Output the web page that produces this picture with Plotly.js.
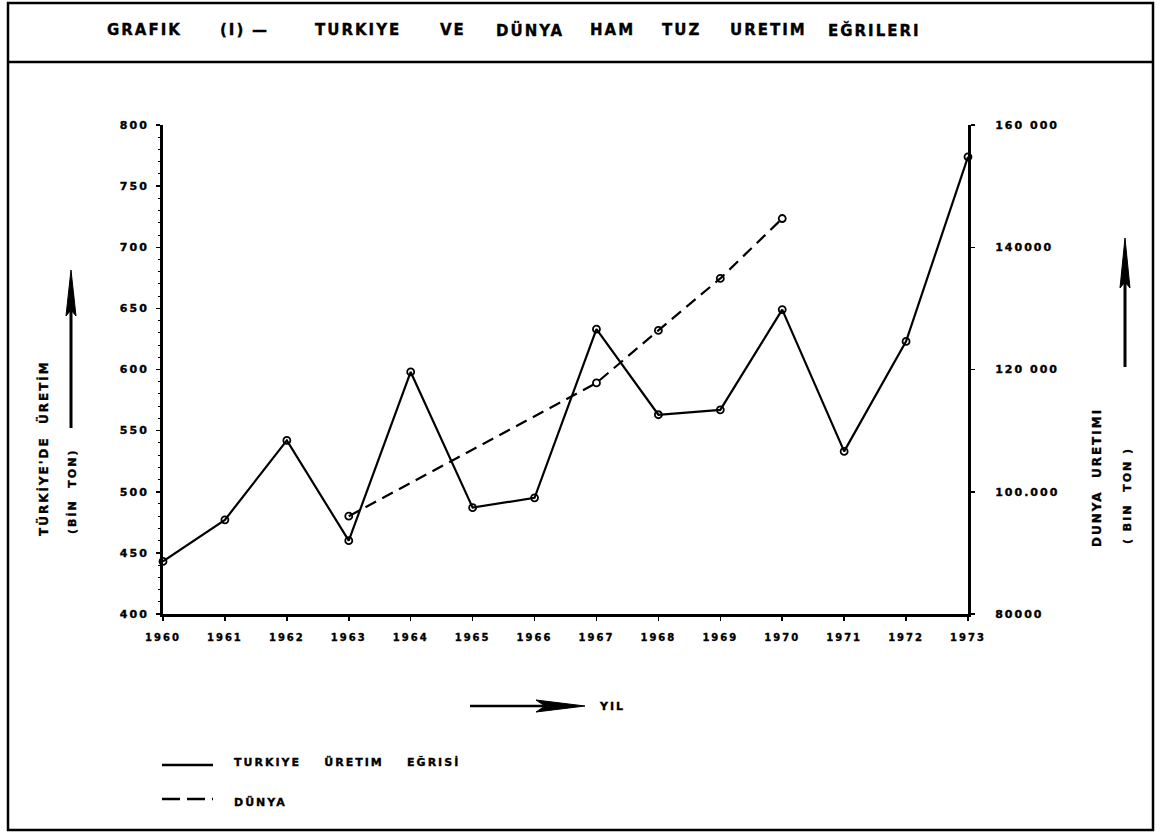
<!DOCTYPE html>
<html>
<head>
<meta charset="utf-8">
<script src="https://cdn.plot.ly/plotly-3.0.1.min.js"></script>
<style>
  html, body { margin: 0; padding: 0; background: #fff; }
  #chart { width: 1162px; height: 836px; }
  text { letter-spacing: 2px; }
  .js-plotly-plot text { stroke: #000; stroke-width: 0.35px; }
</style>
</head>
<body>
<div id="chart"></div>
<script>
// ---- data ----
const years = [1960, 1961, 1962, 1963, 1964, 1965, 1966, 1967, 1968, 1969, 1970, 1971, 1972, 1973];
const turkeyProduction = [443, 477, 542, 460, 598, 487, 495, 633, 563, 567, 649, 533, 623, 774];
const worldYears = [1963, 1967, 1968, 1969, 1970];
const worldProduction = [96000, 117800, 126400, 134900, 144700];
const leftTickVals = [400, 450, 500, 550, 600, 650, 700, 750, 800];
const leftTickText = ['400', '450', '500', '550', '600', '650', '700', '750', '800'];
const rightTickVals = [80000, 100000, 120000, 140000, 160000];
const rightTickText = ['80000', '100.000', '120 000', '140000', '160 000'];
const xTickText = ['1960', '1961', '1962', '1963', '1964', '1965', '1966', '1967', '1968', '1969', '1970', '1971', '1972', '1973'];

const titleWords = ['GRAFIK', '(I)', '—', 'TURKIYE', 'VE', 'DÜNYA', 'HAM', 'TUZ', 'URETIM', 'EĞRILERI'];
const legendTurkey = 'TURKIYE\u00A0\u00A0\u00A0\u00A0ÜRETIM\u00A0\u00A0\u00A0\u00A0EĞRISİ';
const legendWorld = 'DÜNYA';

// ---- layout helpers (pixel -> paper) ----
const L = 163, R = 968, T = 125, B = 614;
const px = x => (x - L) / (R - L);
const py = y => (B - y) / (B - T);
const FONT = 'DejaVu Sans, Liberation Sans, sans-serif';
const titleWordX = [105, 218, 250, 313, 438, 494, 588, 660, 728, 826];

function ann(x, y, text, opts) {
  return Object.assign({
    xref: 'paper', yref: 'paper', x: px(x), y: py(y), text: text, showarrow: false,
    font: {family: FONT, size: 11, color: '#000', weight: 'bold'}
  }, opts || {});
}
function pathShape(points, fill) {
  const d = points.map((p, i) => (i ? 'L' : 'M') + px(p[0]).toFixed(5) + ',' + py(p[1]).toFixed(5)).join(' ') + (fill ? ' Z' : '');
  return {type: 'path', xref: 'paper', yref: 'paper', path: d,
    line: {color: '#000', width: fill ? 1 : 2.5}, fillcolor: fill ? '#000' : 'rgba(0,0,0,0)'};
}
function lineShape(x0, y0, x1, y1, w, dash) {
  return {type: 'line', xref: 'paper', yref: 'paper', x0: px(x0), y0: py(y0), x1: px(x1), y1: py(y1),
    line: {color: '#000', width: w, dash: dash || 'solid'}};
}

const traces = [
  {
    x: years, y: turkeyProduction, type: 'scatter', mode: 'lines+markers', name: 'TURKIYE',
    line: {color: '#000', width: 2.2}, marker: {symbol: 'circle-open', size: 7, color: '#000', line: {width: 1.8}},
    cliponaxis: false, showlegend: false
  },
  {
    x: worldYears, y: worldProduction, type: 'scatter', mode: 'lines+markers', name: 'DÜNYA', yaxis: 'y2',
    line: {color: '#000', width: 2.2, dash: '12px,7px'}, marker: {symbol: 'circle-open', size: 7, color: '#000', line: {width: 1.8}},
    cliponaxis: false, showlegend: false
  }
];

const shapes = [
  // outer frame and title divider
  {type: 'rect', xref: 'paper', yref: 'paper', x0: px(8), x1: px(1153), y0: py(830), y1: py(3), line: {color: '#000', width: 2.5}},
  lineShape(8, 62, 1153, 62, 2.5),
  // left axis title arrow
  lineShape(71, 428, 71, 300, 3),
  pathShape([[71, 270], [66, 316], [71, 310], [76, 316]], true),
  // right axis title arrow
  lineShape(1125, 367, 1125, 270, 3),
  pathShape([[1125, 238], [1120, 288], [1125, 282], [1130, 288]], true),
  // x axis title arrow
  lineShape(470, 706, 545, 706, 2.5),
  pathShape([[585, 706], [536, 700], [545, 706], [536, 712]], true),
  // legend samples
  lineShape(162, 765, 213, 765, 2.5),
  lineShape(162, 799, 213, 799, 2.5, '18px,7px')
];

const annotations = titleWords.map((w, i) =>
  ann(titleWordX[i], 30, w, {xanchor: 'left', yanchor: 'middle', font: {family: FONT, size: 15, color: '#000', weight: 'bold'}})
).concat([
  ann(43, 448, 'TÜRKİYE\'DE\u00A0\u00A0ÜRETİM', {textangle: -90, xanchor: 'center', yanchor: 'middle', font: {family: FONT, size: 12, color: '#000', weight: 'bold'}}),
  ann(72, 492, '(BİN\u00A0\u00A0TON)', {textangle: -90, xanchor: 'center', yanchor: 'middle', font: {family: FONT, size: 11, color: '#000', weight: 'bold'}}),
  ann(1097, 478, 'DUNYA\u00A0\u00A0URETIMI', {textangle: -90, xanchor: 'center', yanchor: 'middle', font: {family: FONT, size: 12, color: '#000', weight: 'bold'}}),
  ann(1127, 496, '(\u00A0BIN\u00A0\u00A0TON\u00A0)', {textangle: -90, xanchor: 'center', yanchor: 'middle', font: {family: FONT, size: 11, color: '#000', weight: 'bold'}}),
  ann(597, 706, 'YIL', {xanchor: 'left', yanchor: 'middle', font: {family: FONT, size: 11, color: '#000', weight: 'bold'}}),
  ann(232, 762, legendTurkey, {xanchor: 'left', yanchor: 'middle', font: {family: FONT, size: 11, color: '#000', weight: 'bold'}}),
  ann(232, 802, legendWorld, {xanchor: 'left', yanchor: 'middle', font: {family: FONT, size: 11, color: '#000', weight: 'bold'}})
]);

const tickFont = {family: FONT, size: 11, color: '#000', weight: 'bold'};
const xTickFont = {family: FONT, size: 10, color: '#000', weight: 'bold'};

const layout = {
  width: 1162, height: 836,
  margin: {l: L, r: 1162 - R, t: T, b: 836 - B, pad: 0},
  paper_bgcolor: '#fff', plot_bgcolor: '#fff',
  showlegend: false,
  xaxis: {
    range: [1960, 1973], tickvals: years, ticktext: xTickText, tickfont: xTickFont,
    showgrid: false, zeroline: false, showline: true, linecolor: '#000', linewidth: 3,
    ticks: 'outside', ticklen: 4, tickwidth: 1.5, tickcolor: '#000', ticklabelstandoff: 8
  },
  yaxis: {
    range: [400, 800], tickvals: leftTickVals, ticktext: leftTickText, tickfont: tickFont,
    showgrid: false, zeroline: false, showline: true, linecolor: '#000', linewidth: 3,
    ticks: 'outside', ticklen: 4, tickwidth: 1.5, tickcolor: '#000', ticklabelstandoff: 5,
    minor: {dtick: 10, ticklen: 2, tickcolor: '#000', tickwidth: 1, ticks: 'outside'}
  },
  yaxis2: {
    range: [80000, 160000], tickvals: rightTickVals, ticktext: rightTickText, tickfont: tickFont,
    overlaying: 'y', side: 'right',
    showgrid: false, zeroline: false, showline: true, linecolor: '#000', linewidth: 3,
    ticks: 'outside', ticklen: 4, tickwidth: 1.5, tickcolor: '#000', ticklabelstandoff: 18
  },
  shapes: shapes,
  annotations: annotations
};

Plotly.newPlot('chart', traces, layout, {displayModeBar: false, staticPlot: true});
</script>
</body>
</html>
